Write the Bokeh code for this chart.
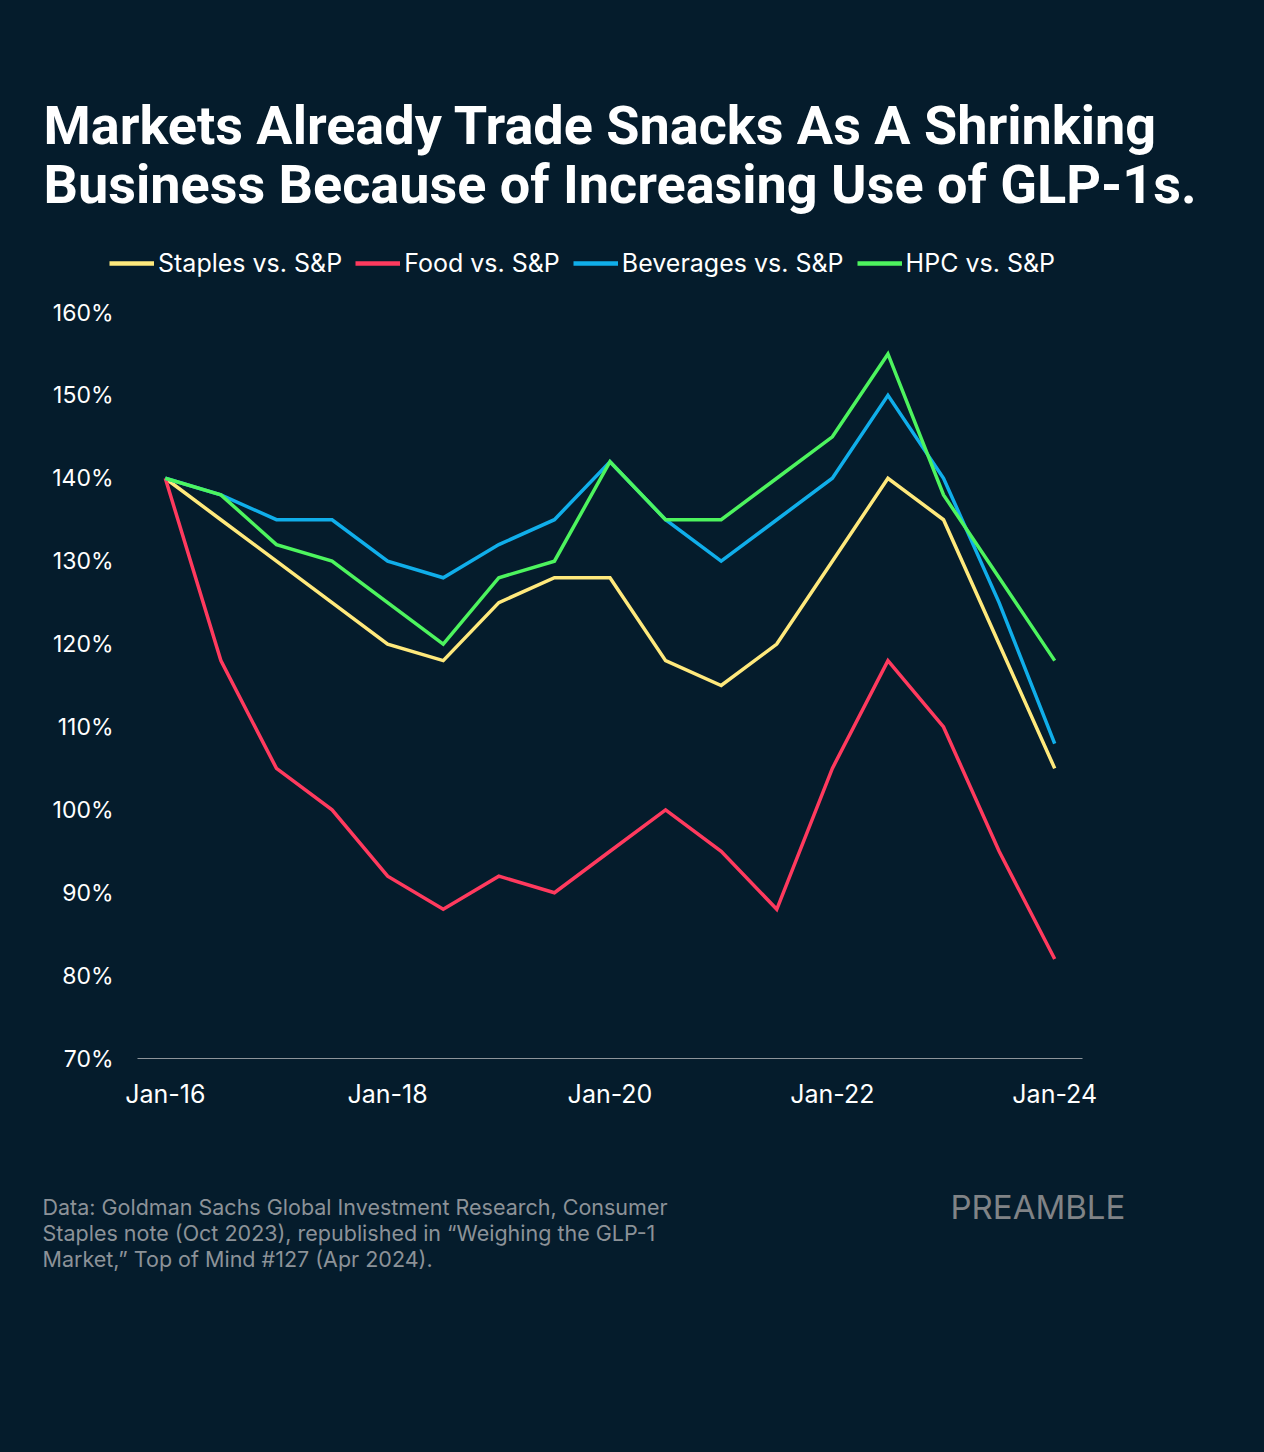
from bokeh.plotting import figure
from bokeh.layouts import column
from bokeh.models import FixedTicker, Label, Legend, LegendItem, Range1d
from bokeh.embed import file_html
from bokeh.resources import INLINE

# ---------------- data ----------------
periods = ["Jan-16", "Jul-16", "Jan-17", "Jul-17", "Jan-18", "Jul-18", "Jan-19", "Jul-19",
           "Jan-20", "Jul-20", "Jan-21", "Jul-21", "Jan-22", "Jul-22", "Jan-23", "Jul-23", "Jan-24"]
staples = [140, 135, 130, 125, 120, 118, 125, 128, 128, 118, 115, 120, 130, 140, 135, 120, 105]
food = [140, 118, 105, 100, 92, 88, 92, 90, 95, 100, 95, 88, 105, 118, 110, 95, 82]
beverages = [140, 138, 135, 135, 130, 128, 132, 135, 142, 135, 130, 135, 140, 150, 140, 125, 108]
hpc = [140, 138, 132, 130, 125, 120, 128, 130, 142, 135, 135, 140, 145, 155, 138, 128, 118]
series_names = ["Staples vs. S&P", "Food vs. S&P", "Beverages vs. S&P", "HPC vs. S&P"]
x_tick_idx = [0, 4, 8, 12, 16]
y_ticks = [70, 80, 90, 100, 110, 120, 130, 140, 150, 160]
y_tick_labels = ["70%", "80%", "90%", "100%", "110%", "120%", "130%", "140%", "150%", "160%"]
title_lines = ["Markets Already Trade Snacks As A Shrinking",
               "Business Because of Increasing Use of GLP-1s."]
source_lines = ["Data: Goldman Sachs Global Investment Research, Consumer",
                "Staples note (Oct 2023), republished in \u201cWeighing the GLP-1",
                "Market,\u201d Top of Mind #127 (Apr 2024)."]
brand = "PREAMBLE"

# ---------------- style ----------------
BG = "#051C2C"
colors = ["#FFE97C", "#FF3A5E", "#10AEEA", "#4DF45E"]
LABEL_FONT = "Inter"
TITLE_FONT = "Roboto"

W = 1264
HEAD_H = 290          # header figure: page y 0..290
MAIN_BOTTOM = 1150    # main figure: page y 290..1150
TOTAL_H = 1452        # footer figure: page y 1150..1452
FL, FR, FT, FB = 137, 1082, 312, 1058   # plot frame edges on the page (px)
BG_STYLE = {"background-color": BG}


def no_align(fig):
    try:
        fig.frame_align = False
    except AttributeError:
        pass


def blank(height, top):
    f = figure(width=W, height=height, x_range=Range1d(0, W), y_range=Range1d(top + height, top),
               x_axis_type=None, y_axis_type=None, output_backend="svg", toolbar_location=None,
               min_border=0, min_border_left=0, min_border_right=0,
               min_border_top=0, min_border_bottom=0,
               background_fill_color=None, border_fill_color=None)
    f.outline_line_color = None
    f.styles = BG_STYLE
    no_align(f)
    return f


def add_text(fig, txt, px, py, size, color, font, style="normal"):
    fig.add_layout(Label(x=px, y=py, text=txt, text_font=font,
                         text_font_size=f"{size}px", text_color=color,
                         text_font_style=style, text_align="left",
                         text_baseline="alphabetic"))


# ---------------- header: title + legend ----------------
head = blank(HEAD_H, 0)
add_text(head, title_lines[0], 43, 125, 54, "#FFFFFF", TITLE_FONT, "bold")
add_text(head, title_lines[1], 43, 184, 54, "#FFFFFF", TITLE_FONT, "bold")

nan = float("nan")
proxies = [head.line([nan], [nan], line_color=c, line_width=4.5) for c in colors]
legend = Legend(items=[LegendItem(label=n, renderers=[r]) for n, r in zip(series_names, proxies)],
                orientation="horizontal", location=(109, 12),
                glyph_width=45, glyph_height=20, label_standoff=4, spacing=13,
                padding=0, margin=0, background_fill_alpha=0, border_line_alpha=0,
                label_text_font=LABEL_FONT, label_text_font_size="25px",
                label_text_color="#FFFFFF")
head.add_layout(legend, "center")

# ---------------- main chart ----------------
main_h = MAIN_BOTTOM - HEAD_H
p = figure(width=W, height=main_h, x_range=(-0.5, len(periods) - 0.5), y_range=(70, 160),
           output_backend="svg", toolbar_location=None,
           min_border_left=FL, min_border_right=W - FR,
           min_border_top=FT - HEAD_H, min_border_bottom=MAIN_BOTTOM - FB,
           background_fill_color=None, border_fill_color=None)
p.outline_line_color = None
p.styles = BG_STYLE
no_align(p)

xs = list(range(len(periods)))
for vals, c in zip([staples, food, beverages, hpc], colors):
    p.line(xs, vals, line_color=c, line_width=3.5, line_join="miter")

p.xgrid.visible = False
p.ygrid.visible = False

p.xaxis.ticker = FixedTicker(ticks=x_tick_idx)
p.xaxis.major_label_overrides = {i: periods[i] for i in x_tick_idx}
p.xaxis.axis_line_color = "#8E949A"
p.xaxis.axis_line_width = 1.2
p.xaxis.major_tick_out = 0
p.xaxis.major_tick_in = 0
p.xaxis.minor_tick_out = 0
p.xaxis.minor_tick_in = 0
p.xaxis.major_label_standoff = 20
p.xaxis.major_label_text_font = LABEL_FONT
p.xaxis.major_label_text_font_size = "25px"
p.xaxis.major_label_text_color = "#FFFFFF"

p.yaxis.ticker = FixedTicker(ticks=y_ticks)
p.yaxis.major_label_overrides = {t: l for t, l in zip(y_ticks, y_tick_labels)}
p.yaxis.axis_line_color = None
p.yaxis.major_tick_out = 0
p.yaxis.major_tick_in = 0
p.yaxis.minor_tick_out = 0
p.yaxis.minor_tick_in = 0
p.yaxis.major_label_standoff = 24
p.yaxis.major_label_text_font = LABEL_FONT
p.yaxis.major_label_text_font_size = "23px"
p.yaxis.major_label_text_color = "#FFFFFF"

# ---------------- footer: source + brand ----------------
foot = blank(TOTAL_H - MAIN_BOTTOM, MAIN_BOTTOM)
for i, line in enumerate(source_lines):
    add_text(foot, line, 42, 1206 + 26 * i, 21.5, "#8C9298", LABEL_FONT)
add_text(foot, brand, 950, 1206, 33, "#808386", LABEL_FONT)

layout = column(head, p, foot, spacing=0, styles=BG_STYLE)

open("out.html", "w").write(file_html(layout, INLINE))
